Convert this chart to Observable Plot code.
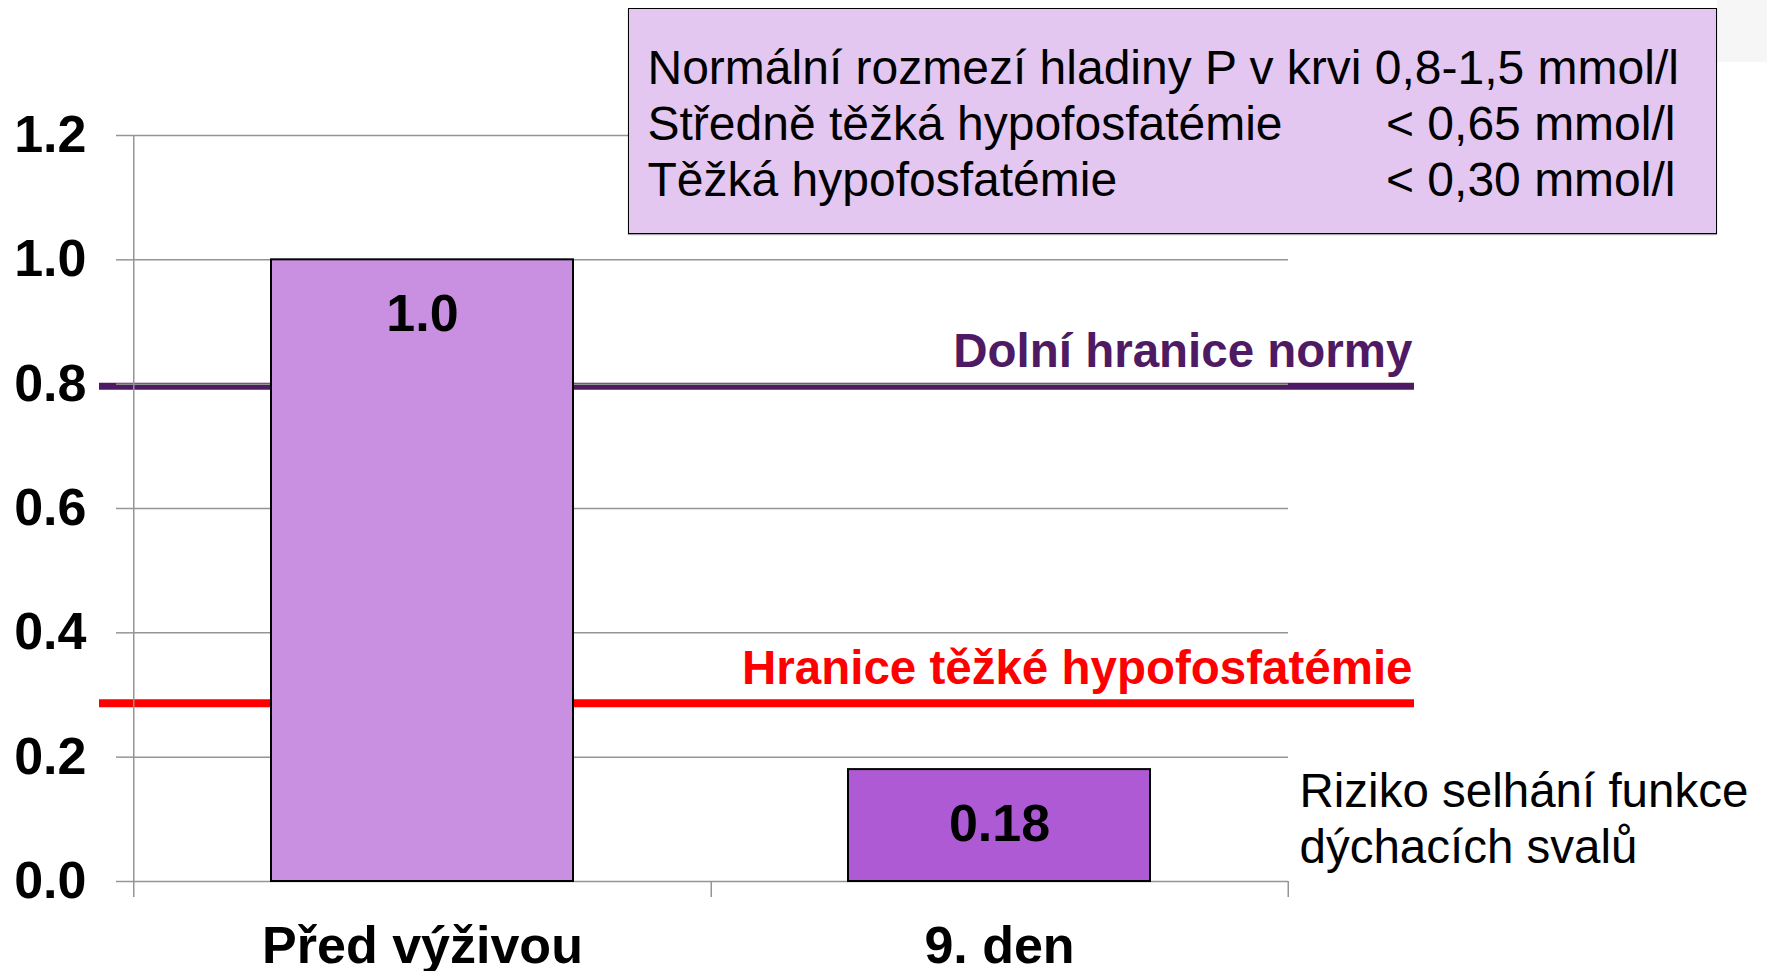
<!DOCTYPE html>
<html>
<head>
<meta charset="utf-8">
<script src="https://cdn.jsdelivr.net/npm/d3@7"></script>
<script src="https://cdn.jsdelivr.net/npm/@observablehq/plot@0.6"></script>
<style>
  html, body { margin: 0; padding: 0; background: #fff; overflow: hidden; }
  #wrap { position: relative; width: 1767px; height: 971px; font-family: "Liberation Sans", Arial, sans-serif; }
  #deco { position: absolute; left: 1717px; top: 0; width: 50px; height: 62px; background: #f6f6f6; }
  #box { position: absolute; left: 628px; top: 8px; width: 1089px; height: 226px; box-sizing: border-box;
         background: #E3C7F0; border: 1.5px solid #000; box-shadow: 0 1px 1px rgba(0,0,0,0.35); }
  #box .line { position: absolute; left: 18.5px; font-size: 48px; line-height: 56px; color: #000; white-space: nowrap; }
  #box .right { position: absolute; left: 757px; font-size: 48px; line-height: 56px; color: #000; white-space: nowrap; }
  g[aria-label="y-axis tick label"] text, g[aria-label="x-axis tick label"] text { font-weight: bold; }
</style>
</head>
<body>
<div id="wrap">
  <div id="deco"></div>
  <div id="chart"></div>
  <div id="box"></div>
</div>
<script>
// ---- data ----
const categories = ["Před výživou", "9. den"];
const values = [1.0, 0.18];
const valueLabels = ["1.0", "0.18"];
const barColors = ["#C990E2", "#AF5AD5"];
const yTicks = [0, 0.2, 0.4, 0.6, 0.8, 1.0, 1.2];
const thresholds = [0.8, 0.29];
const thresholdLabels = ["Dolní hranice normy", "Hranice těžké hypofosfatémie"];
const thresholdColors = ["#4E1A63", "#FF0000"];
const thresholdWidths = [7, 8];
const noteText = "Riziko selhání funkce\ndýchacích svalů";
const legendLeft = ["Normální rozmezí hladiny P v krvi 0,8-1,5 mmol/l", "Středně těžká hypofosfatémie", "Těžká hypofosfatémie"];
const legendRight = ["", "< 0,65 mmol/l", "< 0,30 mmol/l"];

// ---- layout ----
const W = 1767, H = 971;
const mLeft = 133, mRight = 479, mTop = 135, mBottom = 90;
const step = (W - mRight - mLeft) / categories.length;

const data = categories.map((c, i) => ({cat: c, value: values[i], label: valueLabels[i]}));
const lines = thresholds.map((t, i) => ({y: t, label: thresholdLabels[i], color: thresholdColors[i], w: thresholdWidths[i]}));

const chart = Plot.plot({
  width: W,
  height: H,
  marginLeft: mLeft,
  marginRight: mRight,
  marginTop: mTop,
  marginBottom: mBottom,
  style: {fontFamily: '"Liberation Sans", Arial, sans-serif', background: "transparent", overflow: "visible"},
  x: {domain: categories, paddingInner: 0.477, paddingOuter: 0.2385, label: null},
  y: {domain: [0, 1.2], label: null},
  color: {domain: categories, range: barColors},
  marks: [
    // threshold lines (under grid and bars)
    ...lines.map(l => Plot.ruleY([l.y], {stroke: l.color, strokeWidth: l.w, dy: 2, insetLeft: -34, insetRight: -126})),
    Plot.gridY(yTicks, {stroke: "#959595", strokeOpacity: 1, strokeWidth: 1.5}),
    // y axis line and category boundary ticks
    Plot.ruleX([categories[0]], {x: d => d, dx: -step / 2, y1: 1.2, y2: 0, insetBottom: -16, stroke: "#959595", strokeWidth: 1.5}),
    Plot.ruleX(categories, {x: d => d, dx: step / 2, y1: 0, y2: 0, insetBottom: -16, stroke: "#959595", strokeWidth: 1.5}),
    Plot.axisY({ticks: yTicks, tickFormat: d3.format(".1f"), tickSize: 17, tickPadding: 30, label: null,
                fontSize: 52, fontWeight: "bold", stroke: "#959595", strokeWidth: 1.5, fill: "#000"}),
    Plot.axisX({tickSize: 0, tickPadding: 45, label: null, fontSize: 52, fontWeight: "bold", fill: "#000"}),
    Plot.barY(data, {x: "cat", y: "value", fill: "cat", stroke: "#000", strokeWidth: 2}),
    Plot.text(data, {x: "cat", y: "value", text: "label", dy: 55, fontSize: 52, fontWeight: "bold", fill: "#000"}),
    // threshold labels
    ...lines.map(l => Plot.text([l], {y: "y", text: "label", frameAnchor: "right", textAnchor: "end", lineAnchor: "bottom",
                                      dx: 124, dy: -17, fontSize: 47.5, fontWeight: "bold", fill: l.color})),
    // note
    Plot.text([noteText], {text: d => d, frameAnchor: "bottom-right", textAnchor: "start", lineAnchor: "bottom",
                           dx: 11, dy: -19, fontSize: 47.5, lineHeight: 1.16, fill: "#000"})
  ]
});
document.getElementById("chart").appendChild(chart);

// legend box text
const box = document.getElementById("box");
legendLeft.forEach((t, i) => {
  const d = document.createElement("div");
  d.className = "line";
  d.style.top = (30.5 + i * 56) + "px";
  d.textContent = t;
  box.appendChild(d);
  if (legendRight[i]) {
    const r = document.createElement("div");
    r.className = "right";
    r.style.top = (30.5 + i * 56) + "px";
    r.textContent = legendRight[i];
    box.appendChild(r);
  }
});
</script>
</body>
</html>
